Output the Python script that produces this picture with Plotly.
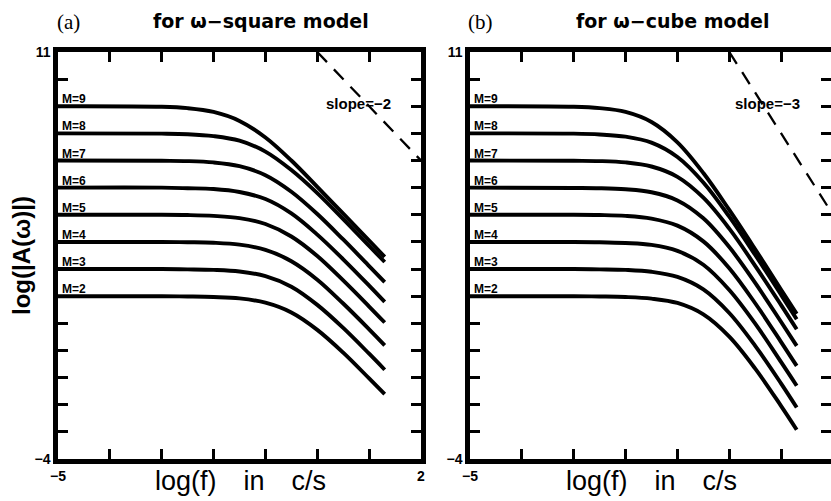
import plotly.graph_objects as go

# ---------------- data ----------------
log_f = [-5, -3, -2.5, -2, -1.5, -1, -0.5, 0, 0.5, 1.0, 1.3]
magnitudes = [2, 3, 4, 5, 6, 7, 8, 9]

# (a) omega-square model: log|A| for M = 2..9
sq_M2 = [2.00, 2.00, 1.99, 1.97, 1.92, 1.76, 1.40, 0.76, -0.08, -1.03, -1.61]
sq_M3 = [3.00, 3.00, 2.99, 2.97, 2.91, 2.74, 2.35, 1.68, 0.83, -0.12, -0.71]
sq_M4 = [4.00, 4.00, 3.99, 3.97, 3.90, 3.71, 3.29, 2.61, 1.73, 0.78, 0.19]
sq_M5 = [5.00, 5.00, 4.99, 4.96, 4.88, 4.66, 4.20, 3.48, 2.58, 1.62, 1.03]
sq_M6 = [6.00, 6.00, 5.98, 5.95, 5.84, 5.58, 5.05, 4.27, 3.36, 2.39, 1.79]
sq_M7 = [7.00, 6.99, 6.98, 6.93, 6.79, 6.46, 5.85, 5.03, 4.09, 3.11, 2.52]
sq_M8 = [8.00, 7.99, 7.97, 7.90, 7.73, 7.33, 6.65, 5.80, 4.84, 3.85, 3.26]
sq_M9 = [9.00, 8.98, 8.93, 8.79, 8.46, 7.85, 7.00, 6.03, 5.04, 4.05, 3.45]

# (b) omega-cube model
cu_M2 = [2.00, 2.00, 1.99, 1.97, 1.91, 1.75, 1.33, 0.51, -0.67, -2.05, -2.92]
cu_M3 = [3.00, 3.00, 2.99, 2.97, 2.90, 2.71, 2.25, 1.38, 0.17, -1.22, -2.10]
cu_M4 = [4.00, 4.00, 3.99, 3.96, 3.89, 3.67, 3.16, 2.23, 0.99, -0.43, -1.30]
cu_M5 = [5.00, 5.00, 4.99, 4.96, 4.86, 4.60, 4.02, 3.03, 1.74, 0.31, -0.57]
cu_M6 = [6.00, 5.99, 5.98, 5.94, 5.83, 5.53, 4.87, 3.81, 2.49, 1.05, 0.17]
cu_M7 = [7.00, 6.99, 6.98, 6.93, 6.78, 6.40, 5.63, 4.49, 3.12, 1.67, 0.78]
cu_M8 = [8.00, 7.99, 7.96, 7.88, 7.66, 7.13, 6.19, 4.93, 3.52, 2.05, 1.15]
cu_M9 = [9.00, 8.98, 8.93, 8.79, 8.42, 7.67, 6.54, 5.18, 3.73, 2.24, 1.35]

# reference slope lines
slope_x = [0, 2]
slope_a_y = [11, 7]    # slope -2
slope_b_y = [11, 5]    # slope -3

x_ticks = [-5, -4, -3, -2, -1, 0, 1, 2]
x_ticktext = ["\u22125", "", "", "", "", "", "", "2"]
y_ticks = list(range(-4, 12))
y_ticktext = ["\u22124"] + [""] * 14 + ["11"]

square_curves = [sq_M2, sq_M3, sq_M4, sq_M5, sq_M6, sq_M7, sq_M8, sq_M9]
cube_curves = [cu_M2, cu_M3, cu_M4, cu_M5, cu_M6, cu_M7, cu_M8, cu_M9]

# ---------------- figure ----------------
W, H = 831, 501
fig = go.Figure()

curve_line = dict(color="black", width=3.9, shape="spline", smoothing=1.0)
for ys in square_curves:
    fig.add_trace(go.Scatter(x=log_f, y=ys, mode="lines", line=curve_line,
                             xaxis="x", yaxis="y", showlegend=False, hoverinfo="skip"))
for ys in cube_curves:
    fig.add_trace(go.Scatter(x=log_f, y=ys, mode="lines", line=curve_line,
                             xaxis="x2", yaxis="y2", showlegend=False, hoverinfo="skip"))

dash_line = dict(color="black", width=2.3, dash="14px,10px")
fig.add_trace(go.Scatter(x=slope_x, y=slope_a_y, mode="lines", line=dash_line,
                         xaxis="x", yaxis="y", showlegend=False, hoverinfo="skip"))
fig.add_trace(go.Scatter(x=slope_x, y=slope_b_y, mode="lines", line=dash_line,
                         xaxis="x2", yaxis="y2", showlegend=False, hoverinfo="skip"))

tickfont = dict(family="Liberation Sans", size=14, color="black", weight="bold")
axis_common = dict(showline=True, linecolor="black", linewidth=4.5, mirror="ticks",
                   ticks="inside", ticklen=10, tickwidth=3, tickcolor="black",
                   showgrid=False, zeroline=False, tickfont=tickfont, automargin=False)

y_top, y_bot = 52, 459
ydom = [1 - y_bot / H, 1 - y_top / H]

fig.update_layout(
    width=W, height=H,
    margin=dict(l=0, r=0, t=0, b=0, autoexpand=False),
    paper_bgcolor="white", plot_bgcolor="white",
    xaxis=dict(domain=[58 / W, 421 / W], range=[-5, 2],
               tickvals=x_ticks, ticktext=x_ticktext, anchor="y", **axis_common),
    yaxis=dict(domain=ydom, range=[-4, 11],
               tickvals=y_ticks, ticktext=y_ticktext, anchor="x", **axis_common),
    xaxis2=dict(domain=[470 / W, 1.0], range=[-5, 2 - 2 / 51.9],
                tickvals=x_ticks, ticktext=x_ticktext, anchor="y2", **axis_common),
    yaxis2=dict(domain=ydom, range=[-4, 11],
                tickvals=y_ticks, ticktext=y_ticktext, anchor="x2", **axis_common),
)

ann = []

def paper(px, py):
    return px / W, 1 - py / H

# panel letters and titles
for px, txt in [(68, "(a)"), (480, "(b)")]:
    x, y = paper(px, 22)
    ann.append(dict(x=x, y=y, xref="paper", yref="paper", text=txt, showarrow=False,
                    xanchor="center", yanchor="middle",
                    font=dict(family="Liberation Serif", size=21, color="black")))
for px, txt in [(261, "for \u03c9\u2212square model"), (672, "for \u03c9\u2212cube model")]:
    x, y = paper(px, 21)
    ann.append(dict(x=x, y=y, xref="paper", yref="paper", text=txt, showarrow=False,
                    xanchor="center", yanchor="middle",
                    font=dict(family="DejaVu Sans", size=19, color="black", weight="bold")))

# x-axis titles
for px in (240, 651):
    x, y = paper(px, 481)
    ann.append(dict(x=x, y=y, xref="paper", yref="paper",
                    text="log(f)\u2003in\u2003c/s", showarrow=False,
                    xanchor="center", yanchor="middle",
                    font=dict(family="Liberation Sans", size=27, color="black")))

# y-axis title
x, y = paper(22, 256)
ann.append(dict(x=x, y=y, xref="paper", yref="paper", text="log(|A(\u03c9)|)",
                showarrow=False, textangle=-90, xanchor="center", yanchor="middle",
                font=dict(family="Liberation Sans", size=24, color="black", weight="bold")))

# M labels
for xr, yr in (("x", "y"), ("x2", "y2")):
    for m in magnitudes:
        ann.append(dict(x=-5, y=m, xref=xr, yref=yr, text=f"M={m}", showarrow=False,
                        xanchor="left", yanchor="bottom", xshift=3, yshift=-1,
                        borderpad=0,
                        font=dict(family="Liberation Sans", size=12, color="black",
                                  weight="bold")))

# slope labels
ann.append(dict(x=0.79, y=9.12, xref="x", yref="y", text="slope=\u22122", showarrow=False,
                xanchor="center", yanchor="middle",
                font=dict(family="Liberation Sans", size=15, color="black", weight="bold")))
ann.append(dict(x=0.74, y=9.12, xref="x2", yref="y2", text="slope=\u22123", showarrow=False,
                xanchor="center", yanchor="middle",
                font=dict(family="Liberation Sans", size=15, color="black", weight="bold")))

fig.update_layout(annotations=ann)

fig.write_html("out.html",
               config={"displayModeBar": False},
               post_script="document.body.style.margin='0px';"
                           "document.body.style.overflow='hidden';")
